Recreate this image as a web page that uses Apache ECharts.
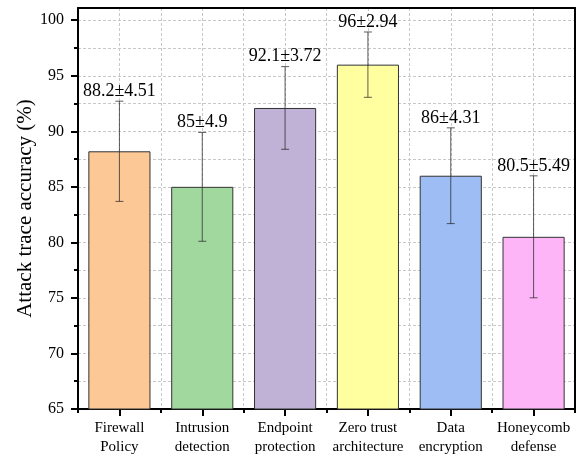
<!DOCTYPE html>
<html>
<head>
<meta charset="utf-8">
<script src="https://cdn.jsdelivr.net/npm/echarts@6/dist/echarts.min.js"></script>
<style>html,body{margin:0;padding:0;background:#fff;}#c{width:578px;height:457px;}</style>
</head>
<body>
<div id="c"></div>
<script>
var categories = ['Firewall\nPolicy', 'Intrusion\ndetection', 'Endpoint\nprotection', 'Zero trust\narchitecture', 'Data\nencryption', 'Honeycomb\ndefense'];
var values = [88.2, 85, 92.1, 96, 86, 80.5];
var errors = [4.51, 4.9, 3.72, 2.94, 4.31, 5.49];
var valueLabels = ['88.2±4.51', '85±4.9', '92.1±3.72', '96±2.94', '86±4.31', '80.5±5.49'];
var barColors = ['#FCC896', '#A0D89E', '#C0B1D6', '#FFFFA0', '#9DBDF4', '#FDB5F7'];
var yTickLabels = [65, 70, 75, 80, 85, 90, 95, 100];
var yMinorTicks = [67.5, 72.5, 77.5, 82.5, 87.5, 92.5, 97.5];

var FONT = '"Liberation Serif", "Times New Roman", serif';
var chart = echarts.init(document.getElementById('c'), null, {renderer: 'canvas'});

var barData = values.map(function (v, i) {
  return {value: v, itemStyle: {color: barColors[i]}};
});
var errData = values.map(function (v, i) { return [i, v, errors[i]]; });
function frameLine() { return {show: true, onZero: false, lineStyle: {color: '#000', width: 2}}; }
var noLine = {show: false, onZero: false};

var option = {
  animation: false,
  backgroundColor: '#fff',
  grid: {left: 78, right: 3, top: 8, bottom: 48, show: false},
  xAxis: [
    {
      type: 'category', data: categories, position: 'bottom',
      axisLine: frameLine(),
      axisTick: {show: true, alignWithLabel: true, length: 7, lineStyle: {color: '#000', width: 2}},
      axisLabel: {color: '#000', fontFamily: FONT, fontSize: 15, lineHeight: 19, margin: 10, interval: 0},
      splitLine: {show: false}
    },
    {
      type: 'value', min: -0.5, max: 5.5, interval: 0.5, position: 'bottom',
      axisLine: noLine,
      axisTick: {show: true, length: 4, lineStyle: {color: '#000', width: 2}},
      axisLabel: {show: false},
      splitLine: {show: true, lineStyle: {color: '#c8c8c8', type: [3, 2], width: 1}}
    },
    {
      type: 'value', min: -0.5, max: 5.5, position: 'top',
      axisLine: frameLine(), axisTick: {show: false}, axisLabel: {show: false}, splitLine: {show: false}
    }
  ],
  yAxis: [
    {
      type: 'value', min: 65, max: 101.1, interval: 2.5, position: 'left',
      axisLine: noLine,
      axisTick: {show: false},
      axisLabel: {show: false},
      splitLine: {show: true, lineStyle: {color: '#c8c8c8', type: [3, 2], width: 1}}
    },
    {
      type: 'value', min: 65, max: 101.1, position: 'left',
      axisLine: frameLine(),
      axisTick: {show: true, length: 4, customValues: yMinorTicks, lineStyle: {color: '#000', width: 2}},
      axisLabel: {show: false, customValues: yMinorTicks},
      splitLine: {show: false}
    },
    {
      type: 'value', min: 65, max: 101.1, interval: 5, position: 'left',
      name: 'Attack trace accuracy (%)', nameLocation: 'middle', nameGap: 42, nameMoveOverlap: false,
      nameTextStyle: {color: '#000', fontFamily: FONT, fontSize: 21},
      axisLine: noLine,
      axisTick: {show: true, length: 7, customValues: yTickLabels, lineStyle: {color: '#000', width: 2}},
      axisLabel: {show: true, customValues: yTickLabels, color: '#000', fontFamily: FONT, fontSize: 16, margin: 14},
      splitLine: {show: false}
    },
    {
      type: 'value', min: 65, max: 101.1, position: 'right',
      axisLine: frameLine(), axisTick: {show: false}, axisLabel: {show: false}, splitLine: {show: false}
    }
  ],
  series: [
    {
      type: 'bar', xAxisIndex: 0, yAxisIndex: 0, data: barData, barWidth: '75%',
      itemStyle: {borderColor: '#333', borderWidth: 1}
    },
    {
      type: 'custom', xAxisIndex: 0, yAxisIndex: 0, data: errData, z: 5,
      renderItem: function (params, api) {
        var x = api.value(0), v = api.value(1), e = api.value(2);
        var top = api.coord([x, v + e]);
        var bot = api.coord([x, v - e]);
        var hw = 4;
        var st = {stroke: 'rgba(40,40,40,0.75)', lineWidth: 1};
        return {
          type: 'group',
          children: [
            {type: 'line', shape: {x1: top[0], y1: top[1], x2: bot[0], y2: bot[1]}, style: st},
            {type: 'line', shape: {x1: top[0] - hw, y1: top[1], x2: top[0] + hw, y2: top[1]}, style: st},
            {type: 'line', shape: {x1: bot[0] - hw, y1: bot[1], x2: bot[0] + hw, y2: bot[1]}, style: st},
            {type: 'text', style: {text: valueLabels[params.dataIndex], x: top[0], y: top[1] - 1, align: 'center', verticalAlign: 'bottom', font: '18px ' + FONT, fill: '#000'}}
          ]
        };
      }
    }
  ]
};
chart.setOption(option);
</script>
</body>
</html>
